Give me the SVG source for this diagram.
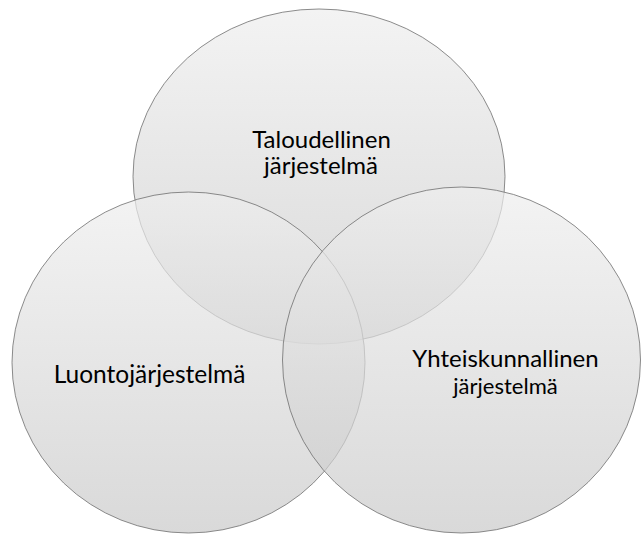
<svg xmlns="http://www.w3.org/2000/svg" width="643" height="535" viewBox="0 0 643 535">
  <defs>
    <linearGradient id="g" x1="0" y1="0" x2="0" y2="1">
      <stop offset="0" stop-color="#eeeeee"/>
      <stop offset="1" stop-color="#c9c9c9"/>
    </linearGradient>
    <style>
      .c { fill: url(#g); fill-opacity: 0.7; stroke: #6f6f6f; stroke-width: 1; stroke-opacity: 0.8; }
      .t { font-family: Lato, "Liberation Sans", sans-serif; fill: #000; text-anchor: middle; }
    </style>
  </defs>
  <rect width="643" height="535" fill="#ffffff"/>
  <g id="taloudellinen">
    <ellipse class="c" cx="319" cy="176.5" rx="186" ry="167.5"/>
  </g>
  <g id="luonto">
    <ellipse class="c" cx="188.5" cy="362.5" rx="176.5" ry="170.5"/>
  </g>
  <g id="yhteiskunnallinen">
    <ellipse class="c" cx="461.5" cy="360" rx="179" ry="173"/>
  </g>
  <g id="labels">
    <text class="t" x="321.5" y="147.5" font-size="24">Taloudellinen</text>
    <text class="t" x="321" y="174" font-size="24">järjestelmä</text>
    <text class="t" x="149.5" y="383" font-size="24.5">Luontojärjestelmä</text>
    <text class="t" x="505.5" y="367" font-size="24">Yhteiskunnallinen</text>
    <text class="t" x="505.5" y="394" font-size="22">järjestelmä</text>
  </g>
</svg>
